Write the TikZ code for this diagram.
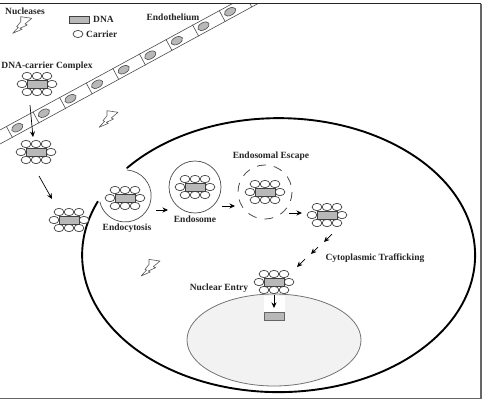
\documentclass[tikz,border=0pt]{standalone}
\usepackage{fontspec}
\setmainfont{Liberation Serif}
\usetikzlibrary{arrows.meta}
\definecolor{dnafill}{gray}{0.72}
\definecolor{linegray}{gray}{0.3}
\tikzset{
  x=1pt,y=-1pt,
  lbl/.style={font=\fontsize{9.5}{11}\selectfont\bfseries,text=black!85,inner sep=0pt},
  carrier/.style={draw=black!75,fill=white,line width=0.7pt},
  dna/.style={draw=black!75,fill=dnafill,line width=0.8pt},
  flow/.style={draw=black,line width=0.7pt,-{Stealth[length=5.5pt,width=5pt]}},
  membrane/.style={draw=black,line width=1.9pt,line cap=round},
  vesicle/.style={draw=linegray,line width=0.7pt},
  bolt/.style={draw=black!65,fill=white,line width=0.6pt,line join=round},
  wall/.style={draw=black!70,line width=0.6pt},
  complex/.pic={
    \foreach \cx/\cy in {-15/0,15/0,-10/-8,0/-8,10/-8,-10/8,0/8,10/8}
      \path[carrier] (\cx,\cy) ellipse [x radius=4.9,y radius=3.7];
    \path[dna] (-10,-4) rectangle (10,4);
  },
  lightning/.pic={
    \path[bolt] (0,0) -- (9.3,-4) -- (7.3,-5) -- (14.6,-8.3) -- (12.3,-9.3) -- (19,-15)
      -- (8,-16.6) -- (8,-11.6) -- (4,-6.6) -- (5.6,-6) -- cycle;
  }
}
\begin{document}
\begin{tikzpicture}
\useasboundingbox (0,0) rectangle (483,400);
\fill[white] (0,0) rectangle (483,400);

% Endothelial wall, clipped by the frame
\begin{scope}
  \clip (0,3) rectangle (481,398);
  \draw[wall] (0,130) -- (239,0);
  \draw[wall] (0,144) -- (264.5,0);
  \foreach \i in {0,...,9} {
    \pgfmathsetmacro{\nx}{17.3+26.6*\i}
    \pgfmathsetmacro{\ny}{127.7-14.5*\i}
    \draw[wall] (\nx-7.9+3.1,\ny+4.3+5.7) -- (\nx-7.9-3.1,\ny+4.3-5.7);
    \draw[wall,fill=dnafill,shift={(\nx,\ny)},rotate=28.6] (0,0) ellipse [x radius=6.2,y radius=3.6];
  }
\end{scope}

% Nucleus and the opening where the complex enters
\draw[draw=black!55,fill=black!5,line width=0.8pt] (274,340) ellipse [x radius=87,y radius=46];
\fill[white] (264,296) rectangle (285,312);

% Cell membrane with the pocket of the endocytic vesicle
\draw[membrane] (127,168) arc [start angle=-140.5,end angle=203,x radius=196.5,y radius=137];
\draw[vesicle] (127,170) arc [start angle=-86,end angle=167,radius=26];
\draw[vesicle] (195,187) circle [radius=26];
\draw[vesicle,line width=0.8pt,dash pattern=on 9pt off 8pt] (265,192) circle [radius=27];

% Frame
\draw[black!85,line width=1.2pt] (0,3.5) -- (481,3.5);
\draw[black!60,line width=1.2pt] (481,3.5) -- (481,398.5) -- (0,398.5);

% Legend and text labels
\path[dna] (69,16) rectangle (89,23);
\path[carrier] (78,34) ellipse [x radius=5,y radius=3.6];
\node[lbl] (tNucleases) at (25,11) {Nucleases};
\node[lbl,anchor=west] (tDNA) at (93,19) {DNA};
\node[lbl,anchor=west] (tCarrier) at (86,34) {Carrier};
\node[lbl] (tEndothelium) at (173,17) {Endothelium};
\node[lbl] (tComplex) at (47,66) {DNA-carrier Complex};
\node[lbl] (tEndocytosis) at (127,228) {Endocytosis};
\node[lbl] (tEndosome) at (195,219) {Endosome};
\node[lbl] (tEscape) at (271,156) {Endosomal Escape};
\node[lbl] (tTrafficking) at (375,258) {Cytoplasmic Trafficking};
\node[lbl] (tNuclear) at (219,288) {Nuclear Entry};

% Nuclease strikes
\pic at (12.7,33.3) {lightning};
\pic at (99,127.3) {lightning};
\pic at (141,276) {lightning};

% DNA-carrier complexes along the delivery route
\pic at (37,84) {complex};
\pic at (36,152) {complex};
\pic at (69,220) {complex};
\pic at (125,198) {complex};
\pic at (195,187) {complex};
\pic at (265,192) {complex};
\pic at (327,215) {complex};
\pic at (274,282) {complex};

% Free DNA inside the nucleus
\path[dna,draw=black!60] (264,312) rectangle (284,320);

% Route arrows
\foreach \name/\ax/\ay/\bx/\by in {
  a/30/105/33/137, b/39/176/52/199, c/156/210/168/210, d/222/206/235/206,
  e/289/213/302/213, f/332/234/324/242, g/318/247/311/254, h/305/259/297/267,
  i/274/295/274/308} {
  \coordinate (\name0) at (\ax,\ay);
  \coordinate (\name1) at (\bx,\by);
  \draw[flow] (\name0) -- (\name1);
}
\end{tikzpicture}
\end{document}
